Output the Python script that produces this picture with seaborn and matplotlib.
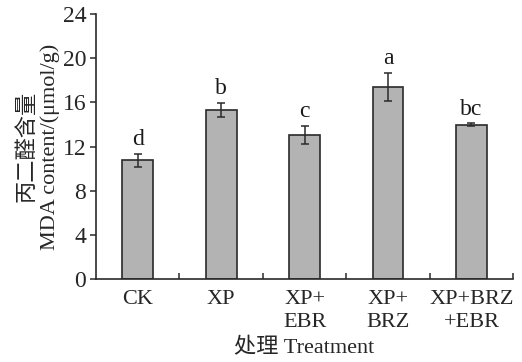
import matplotlib
matplotlib.use("Agg")
import matplotlib.pyplot as plt
import seaborn as sns
import pandas as pd

categories = ["CK", "XP", "XP+\nEBR", "XP+\nBRZ", "XP+BRZ\n+EBR"]
values = [10.75, 15.3, 13.05, 17.4, 14.0]
errors = [0.6, 0.65, 0.85, 1.3, 0.1]
letters = ["d", "b", "c", "a", "bc"]
yticks = [0, 4, 8, 12, 16, 20, 24]

sns.set_style("ticks")
plt.rcParams['font.family'] = ['Liberation Serif', 'Noto Sans CJK SC']

df = pd.DataFrame({"cat": categories, "val": values})

fig = plt.figure(figsize=(5.22, 3.62), dpi=100)
ax = fig.add_axes([0.184, 0.229, 0.799, 0.732])
sns.barplot(data=df, x="cat", y="val", ax=ax, color="#b3b3b3", width=0.37,
            edgecolor="#2a2a2a", linewidth=1.2, saturation=1, errorbar=None)

xs = [p.get_x() + p.get_width() / 2 for p in ax.patches]
ax.errorbar(xs, values, yerr=errors, fmt="none", ecolor="#2a2a2a",
            elinewidth=1.1, capsize=3, capthick=1.1)
for x, v, e, l in zip(xs, values, errors, letters):
    ax.text(x, v + e + 0.35, l, ha="center", va="bottom", fontsize=17,
            color="#1a1a1a")

ax.set_xlim(-0.5, len(categories) - 0.5)
ax.set_ylim(0, 24)
ax.set_yticks(yticks)
ax.set_yticklabels([str(t) for t in yticks], fontsize=17)
ax.set_xticks([i - 0.5 for i in range(1, len(categories) + 1)], minor=False)
ax.set_xticklabels([])
ax.tick_params(axis="x", which="major", direction="in", length=4, width=1.1,
               color="#2a2a2a")
ax.set_xticks(range(len(categories)), minor=True)
ax.set_xticklabels(categories, minor=True, fontsize=16, linespacing=1.25)
ax.tick_params(axis="x", which="minor", length=0, pad=8)
ax.tick_params(axis="y", direction="out", length=4, width=1.1,
               color="#2a2a2a", pad=3)

for s in ["top", "right"]:
    ax.spines[s].set_visible(False)
for s in ["left", "bottom"]:
    ax.spines[s].set_linewidth(1.2)
    ax.spines[s].set_color("#2a2a2a")

ax.set_xlabel("处理 Treatment", fontsize=16, labelpad=5)
ax.set_ylabel("丙二醛含量\nMDA content/(μmol/g)", fontsize=16, labelpad=2,
              linespacing=1.15)

fig.savefig("out.png", dpi=100)
